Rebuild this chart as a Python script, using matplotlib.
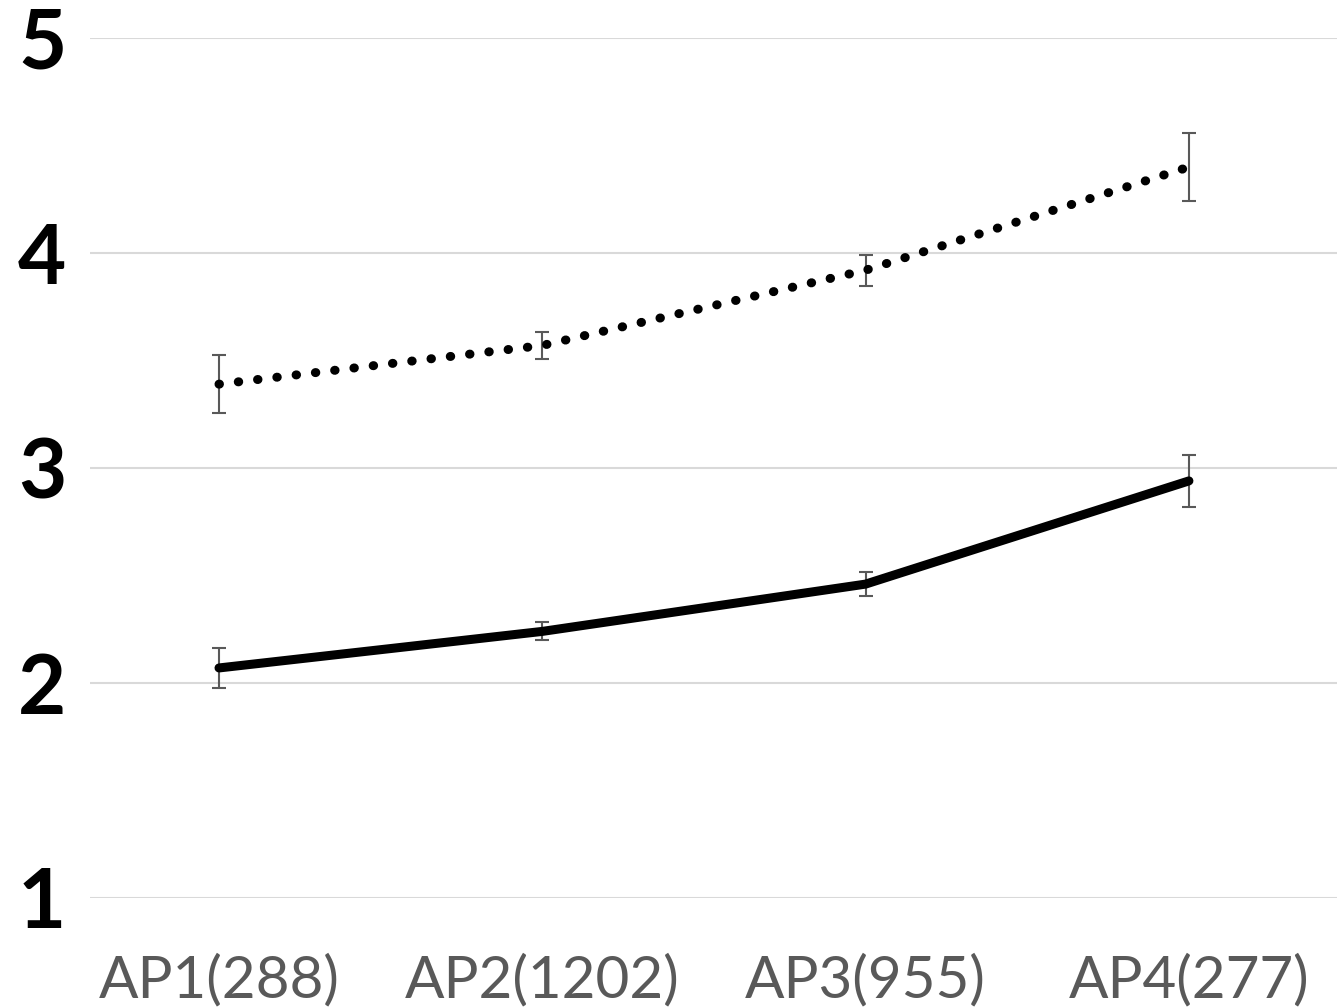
import numpy as np
import matplotlib.pyplot as plt

# categories and values
labels = ["AP1(288)", "AP2(1202)", "AP3(955)", "AP4(277)"]
solid_mean = [2.07, 2.24, 2.46, 2.94]
solid_err = [0.095, 0.042, 0.056, 0.12]
dotted_mean = [3.39, 3.57, 3.92, 4.40]
dotted_err = [0.135, 0.063, 0.072, 0.158]

plt.rcParams['font.family'] = ['Lato', 'DejaVu Sans']

fig = plt.figure(figsize=(13.37, 10.07), dpi=100)
ax = fig.add_axes([90 / 1337, 109 / 1007, 1247 / 1337, 860 / 1007])

x = np.arange(len(labels))

ax.plot(x, solid_mean, color='black', linewidth=6.5, solid_capstyle='round',
        solid_joinstyle='round', zorder=3)
ax.plot(x, dotted_mean, color='black', linewidth=6.5, linestyle=(0, (0.05, 2.1)),
        dash_capstyle='round', zorder=3)

ax.errorbar(x, solid_mean, yerr=solid_err, fmt='none', ecolor='#595959',
            elinewidth=1.5, capsize=5, capthick=1.5, zorder=2)
ax.errorbar(x, dotted_mean, yerr=dotted_err, fmt='none', ecolor='#595959',
            elinewidth=1.5, capsize=5, capthick=1.5, zorder=2)

ax.set_xlim(-0.399, 3.458)
ax.set_ylim(1, 5)
ax.set_yticks([1, 2, 3, 4, 5])
ax.set_xticks(x)
ax.set_xticklabels(labels, fontsize=42, color='#595959')
for t in ax.get_yticklabels():
    t.set_fontsize(60)
    t.set_fontweight('bold')

ax.tick_params(axis='both', length=0)
ax.tick_params(axis='y', pad=17)
ax.tick_params(axis='x', pad=40)
ax.grid(True, axis='y', color='#d9d9d9', linewidth=1.5)
ax.set_axisbelow(True)
for s in ax.spines.values():
    s.set_visible(False)

plt.savefig("out.png", dpi=100)
